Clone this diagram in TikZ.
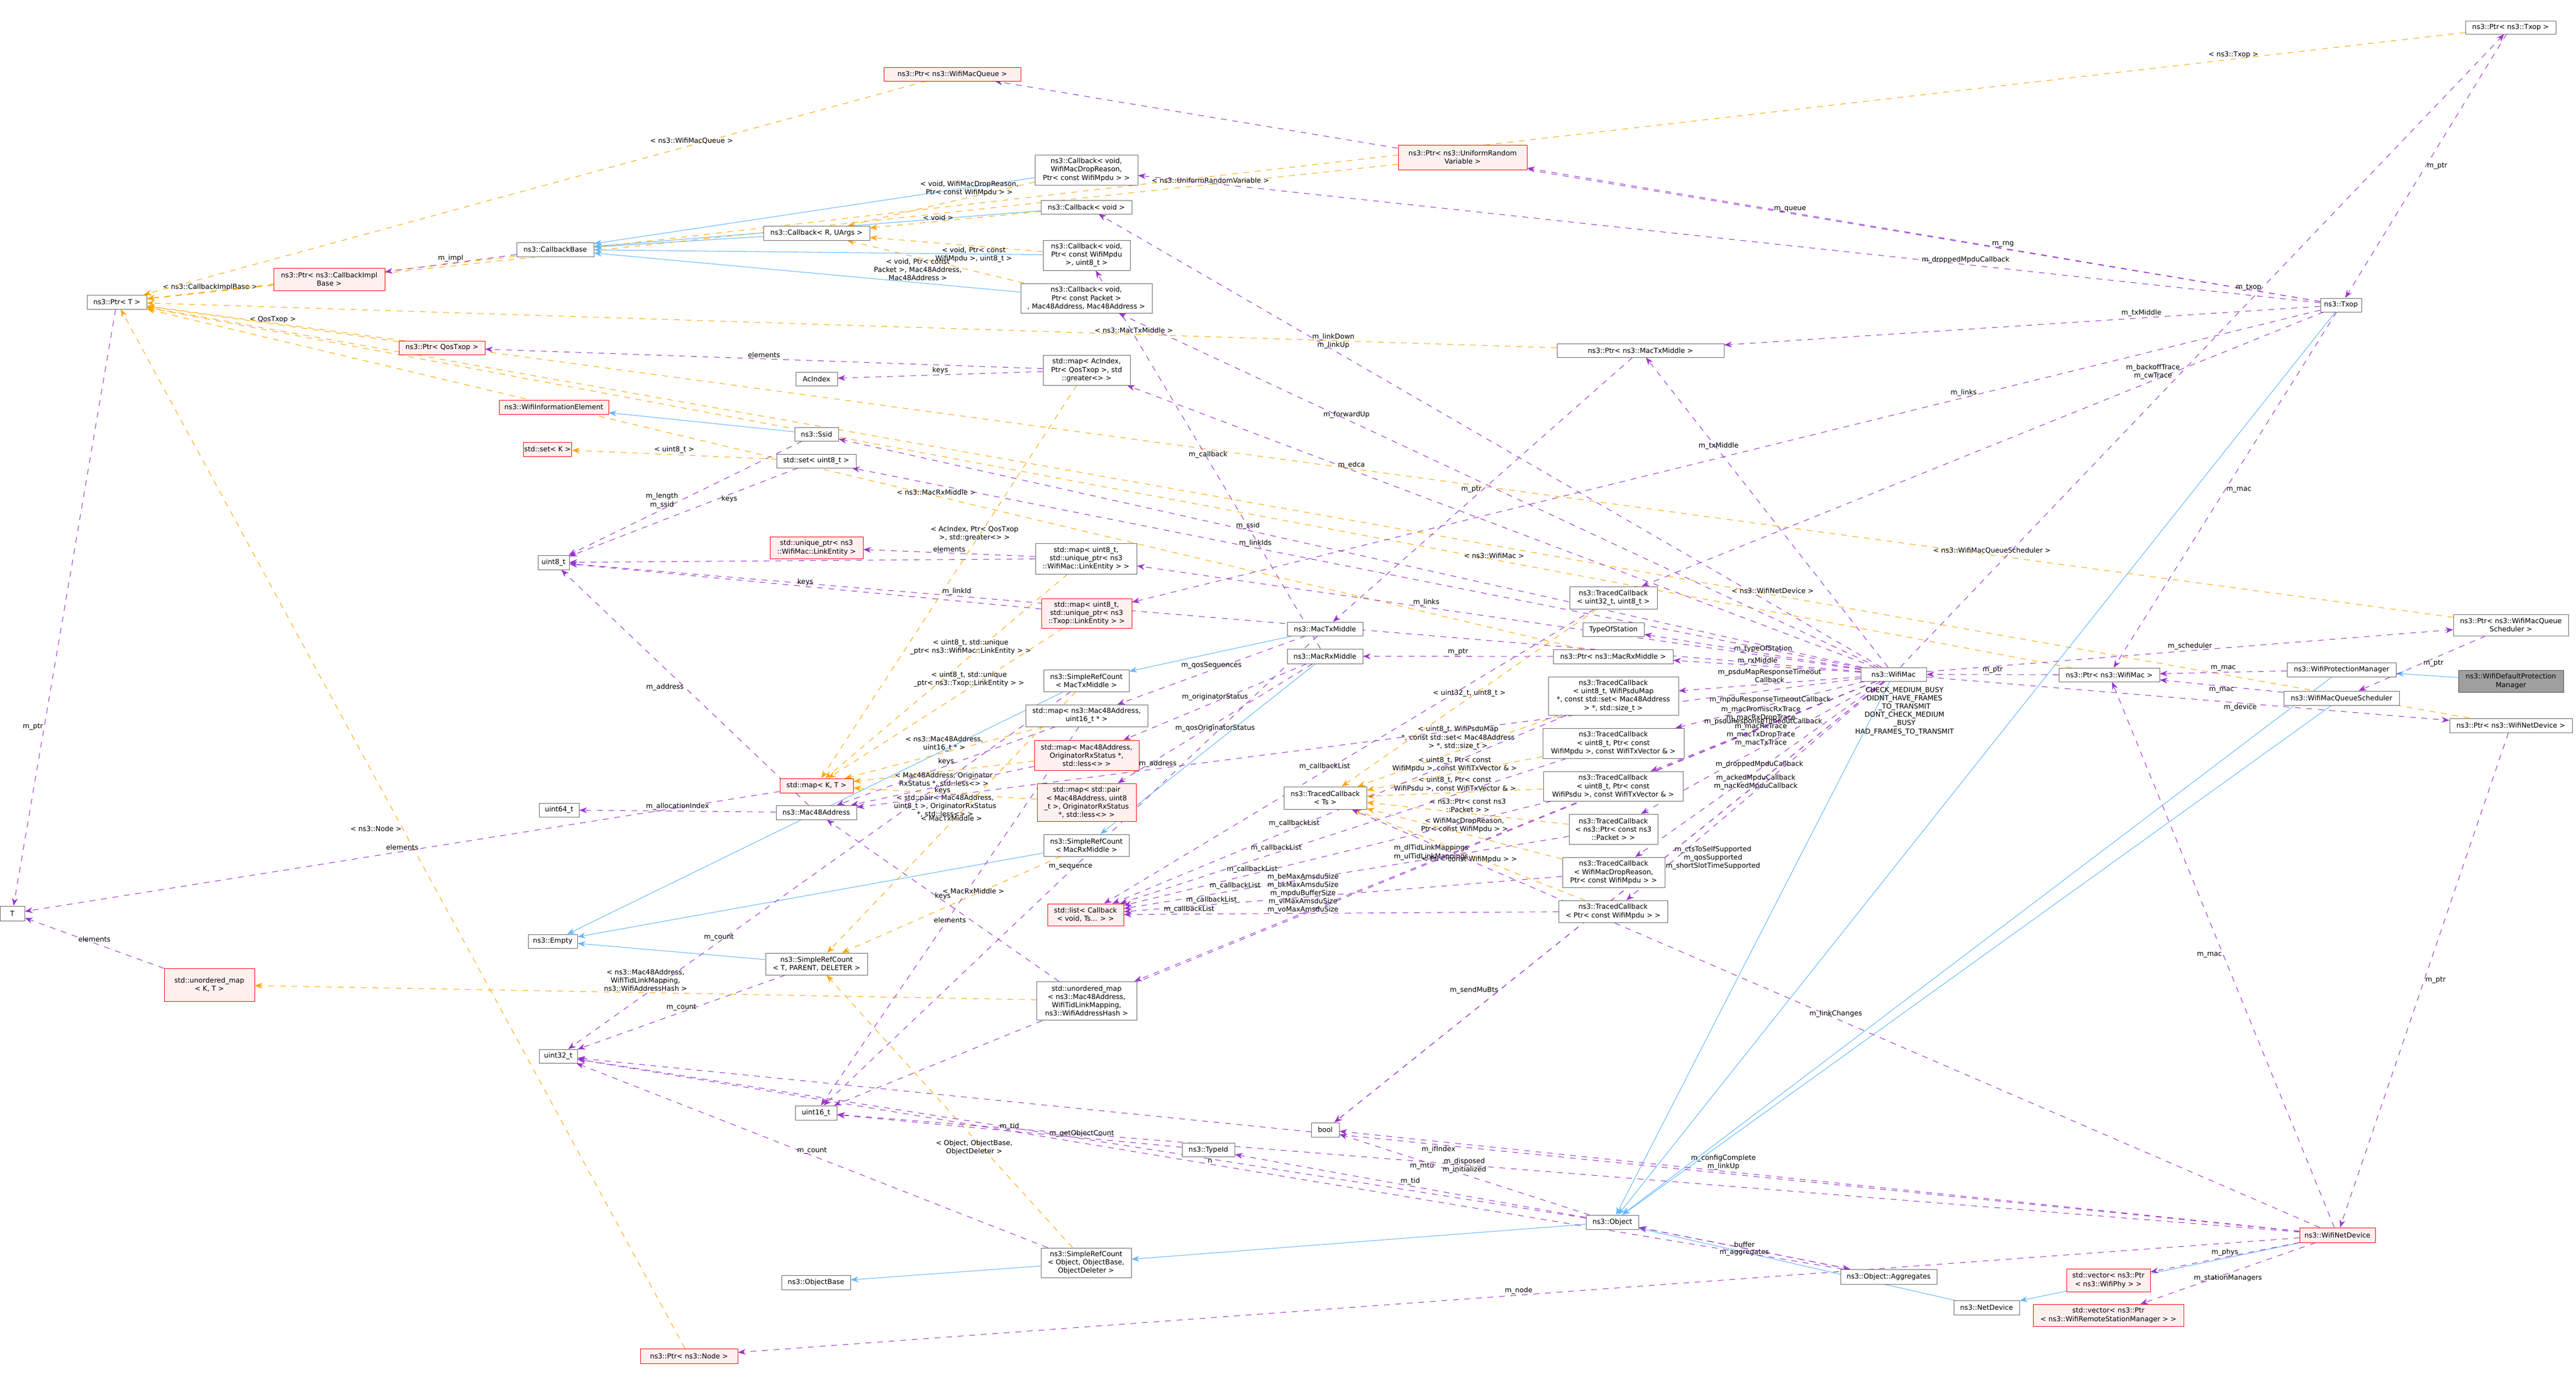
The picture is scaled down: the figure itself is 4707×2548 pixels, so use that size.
\documentclass[tikz,border=0pt]{standalone}
\usepackage{fontspec}
\setmainfont{DejaVu Sans}
\usetikzlibrary{arrows.meta,backgrounds}
\definecolor{purp}{HTML}{9A32CD}
\definecolor{orng}{HTML}{FFA500}
\definecolor{blu}{HTML}{63B8FF}
\definecolor{redb}{HTML}{FF0000}
\definecolor{redf}{HTML}{FFF0F0}
\newcommand\nb[7][plain]{\node[#1,minimum width={(#4-#2)*0.01cm},minimum height={(#5-#3)*0.01cm}] (#6) at ({(#2+#4)/2},{(#3+#5)/2}) {#7};}
\begin{document}
\begin{tikzpicture}[x=0.01cm,y=-0.01cm,
  every node/.style={font=\fontsize{3.6}{4.3}\selectfont,align=center,inner sep=0.5pt},
  plain/.style={draw=gray!80!black,fill=white,line width=0.25pt},
  redbox/.style={draw=redb,fill=redf,line width=0.25pt},
  graybox/.style={draw=gray!60!black,fill=gray!75,line width=0.25pt},
  mem/.style={draw=purp,dashed,line width=0.3pt,-{Stealth[length=4pt,width=3pt]}},
  tmpl/.style={draw=orng,dashed,line width=0.3pt,-{Stealth[length=4pt,width=3pt]}},
  inh/.style={draw=blu,line width=0.3pt,-{Stealth[length=4pt,width=3pt]}},
  lb/.style={fill=none}]
\useasboundingbox (0,0) rectangle (4707,2548);
\nb{159}{539}{268}{565}{ptrT}{ns3::Ptr< T >}
\nb[redbox]{500}{490}{703}{531}{ptrCIB}{ns3::Ptr< ns3::CallbackImpl\\Base >}
\nb[redbox]{729}{623}{886}{648}{ptrQos}{ns3::Ptr< QosTxop >}
\nb{944}{443}{1085}{469}{cbBase}{ns3::CallbackBase}
\nb[redbox]{912}{731}{1112}{757}{wie}{ns3::WifiInformationElement}
\nb[redbox]{961}{808}{1040}{834}{setK}{std::set< K >}
\nb{983}{1015}{1040}{1041}{u8}{uint8\_t}
\nb{4505}{38}{4670}{62}{ptrTxop}{ns3::Ptr< ns3::Txop >}
\nb[redbox]{1615}{123}{1865}{148}{ptrQueue}{ns3::Ptr< ns3::WifiMacQueue >}
\nb[redbox]{2555}{265}{2790}{310}{ptrURV}{ns3::Ptr< ns3::UniformRandom\\Variable >}
\nb{1891}{283}{2079}{338}{cbDrop}{ns3::Callback< void,\\ WifiMacDropReason,\\ Ptr< const WifiMpdu > >}
\nb{1902}{366}{2068}{391}{cbVoid}{ns3::Callback< void >}
\nb{1395}{413}{1589}{439}{cbR}{ns3::Callback< R, UArgs >}
\nb{1906}{439}{2065}{494}{cbMpdu}{ns3::Callback< void,\\ Ptr< const WifiMpdu\\ >, uint8\_t >}
\nb{1865}{518}{2105}{572}{cbPkt}{ns3::Callback< void,\\ Ptr< const Packet >\\ , Mac48Address, Mac48Address >}
\nb{4240}{545}{4315}{570}{txop}{ns3::Txop}
\nb{2845}{628}{3150}{653}{ptrTxM}{ns3::Ptr< ns3::MacTxMiddle >}
\nb{1906}{649}{2065}{704}{mapAc}{std::map< AcIndex,\\ Ptr< QosTxop >, std\\ ::greater<> >}
\nb{1454}{680}{1530}{705}{acIdx}{AcIndex}
\nb{1452}{781}{1532}{806}{ssid}{ns3::Ssid}
\nb{1419}{830}{1564}{855}{setU8}{std::set< uint8\_t >}
\nb[redbox]{1407}{981}{1577}{1021}{uniq}{std::unique\_ptr< ns3\\::WifiMac::LinkEntity >}
\nb{1892}{993}{2077}{1049}{mapWL}{std::map< uint8\_t,\\ std::unique\_ptr< ns3\\::WifiMac::LinkEntity > >}
\nb{2868}{1072}{3028}{1113}{tcU32}{ns3::TracedCallback\\< uint32\_t, uint8\_t >}
\nb[redbox]{1903}{1094}{2068}{1148}{mapTL}{std::map< uint8\_t,\\ std::unique\_ptr< ns3\\::Txop::LinkEntity > >}
\nb{2892}{1138}{3004}{1163}{typeSt}{TypeOfStation}
\nb{2352}{1137}{2490}{1162}{macTx}{ns3::MacTxMiddle}
\nb{2352}{1186}{2490}{1213}{macRx}{ns3::MacRxMiddle}
\nb{2838}{1187}{3057}{1213}{ptrRx}{ns3::Ptr< ns3::MacRxMiddle >}
\nb{1907}{1224}{2063}{1264}{srcTx}{ns3::SimpleRefCount\\< MacTxMiddle >}
\nb{3400}{1220}{3520}{1245}{wifimac}{ns3::WifiMac}
\nb{3762}{1221}{3946}{1246}{ptrWM}{ns3::Ptr< ns3::WifiMac >}
\nb{4179}{1211}{4378}{1237}{wpm}{ns3::WifiProtectionManager}
\nb[graybox]{4492}{1225}{4684}{1265}{wdpm}{ns3::WifiDefaultProtection\\Manager}
\nb{4173}{1263}{4384}{1289}{wmqs}{ns3::WifiMacQueueScheduler}
\nb{4483}{1123}{4693}{1162}{ptrWMQS}{ns3::Ptr< ns3::WifiMacQueue\\Scheduler >}
\nb{4476}{1313}{4700}{1339}{ptrWND}{ns3::Ptr< ns3::WifiNetDevice >}
\nb{2829}{1237}{3067}{1307}{tcPsduMap}{ns3::TracedCallback\\< uint8\_t, WifiPsduMap\\ *, const std::set< Mac48Address\\ > *, std::size\_t >}
\nb{1874}{1288}{2097}{1328}{mapM16}{std::map< ns3::Mac48Address,\\ uint16\_t * >}
\nb[redbox]{1890}{1353}{2081}{1408}{mapOrig}{std::map< Mac48Address,\\ OriginatorRxStatus *,\\ std::less<> >}
\nb{2819}{1331}{3077}{1386}{tcMpdu}{ns3::TracedCallback\\< uint8\_t, Ptr< const\\ WifiMpdu >, const WifiTxVector \& >}
\nb{2820}{1410}{3075}{1464}{tcPsdu}{ns3::TracedCallback\\< uint8\_t, Ptr< const\\ WifiPsdu >, const WifiTxVector \& >}
\nb[redbox]{1425}{1423}{1559}{1449}{mapK}{std::map< K, T >}
\nb[redbox]{1895}{1432}{2076}{1501}{mapPair}{std::map< std::pair\\< Mac48Address, uint8\\ \_t >, OriginatorRxStatus\\ *, std::less<> >}
\nb{2346}{1438}{2497}{1479}{tcTs}{ns3::TracedCallback\\< Ts >}
\nb{1418}{1472}{1565}{1498}{mac48}{ns3::Mac48Address}
\nb{985}{1468}{1058}{1493}{u64}{uint64\_t}
\nb{2867}{1488}{3029}{1543}{tcPkt}{ns3::TracedCallback\\< ns3::Ptr< const ns3\\ ::Packet > >}
\nb{1907}{1525}{2063}{1565}{srcRx}{ns3::SimpleRefCount\\< MacRxMiddle >}
\nb{2855}{1567}{3042}{1622}{tcDrop}{ns3::TracedCallback\\< WifiMacDropReason,\\ Ptr< const WifiMpdu > >}
\nb{2848}{1646}{3047}{1686}{tcMpdu2}{ns3::TracedCallback\\< Ptr< const WifiMpdu > >}
\nb[redbox]{1914}{1652}{2053}{1692}{list}{std::list< Callback\\< void, Ts... > >}
\nb{0}{1656}{45}{1683}{T}{T}
\nb{965}{1708}{1055}{1733}{empty}{ns3::Empty}
\nb{1399}{1742}{1585}{1782}{srcT}{ns3::SimpleRefCount\\< T, PARENT, DELETER >}
\nb[redbox]{300}{1770}{465}{1830}{umapKT}{std::unordered\_map\\< K, T >}
\nb{1894}{1794}{2077}{1864}{umap}{std::unordered\_map\\< ns3::Mac48Address,\\ WifiTidLinkMapping,\\ ns3::WifiAddressHash >}
\nb{985}{1918}{1055}{1943}{u32}{uint32\_t}
\nb{1453}{2021}{1529}{2047}{u16}{uint16\_t}
\nb{2396}{2052}{2447}{2078}{bool}{bool}
\nb{2160}{2089}{2256}{2114}{typeid}{ns3::TypeId}
\nb{2898}{2221}{2994}{2247}{object}{ns3::Object}
\nb[redbox]{4202}{2244}{4340}{2271}{wnd}{ns3::WifiNetDevice}
\nb{1902}{2281}{2067}{2335}{srcO}{ns3::SimpleRefCount\\< Object, ObjectBase,\\ ObjectDeleter >}
\nb{3363}{2320}{3539}{2347}{aggr}{ns3::Object::Aggregates}
\nb[redbox]{3776}{2319}{3929}{2361}{vphy}{std::vector< ns3::Ptr\\< ns3::WifiPhy > >}
\nb{1428}{2331}{1554}{2357}{objBase}{ns3::ObjectBase}
\nb{3570}{2377}{3690}{2403}{netdev}{ns3::NetDevice}
\nb[redbox]{3715}{2384}{3990}{2424}{vrsm}{std::vector< ns3::Ptr\\< ns3::WifiRemoteStationManager > >}
\nb[redbox]{1170}{2465}{1348}{2492}{ptrNode}{ns3::Ptr< ns3::Node >}
\node[lb] (enumlbl) at (3480,1300) {CHECK\_MEDIUM\_BUSY\\DIDNT\_HAVE\_FRAMES\\\_TO\_TRANSMIT\\DONT\_CHECK\_MEDIUM\\\_BUSY\\HAD\_FRAMES\_TO\_TRANSMIT};
\begin{scope}[on background layer]
\fill[white] (0,0) rectangle (4707,2548);
% inheritance
\draw[inh] (cbDrop) -- (cbBase);
\draw[inh] (cbVoid) -- (cbBase);
\draw[inh] (cbMpdu) -- (cbBase);
\draw[inh] (cbPkt) -- (cbBase);
\draw[inh] (cbR) -- (cbBase);
\draw[inh] (ssid) -- (wie);
\draw[inh] (srcT) -- (empty);
\draw[inh] (srcTx) -- (empty);
\draw[inh] (srcRx) -- (empty);
\draw[inh] (macTx) -- (srcTx);
\draw[inh] (macRx) -- (srcRx);
\draw[inh] (srcO) -- (objBase);
\draw[inh] (object) -- (srcO);
\draw[inh] (txop) -- (object);
\draw[inh] (wifimac) -- (object);
\draw[inh] (wpm) -- (object);
\draw[inh] (wmqs) -- (object);
\draw[inh] (netdev) -- (object);
\draw[inh] (wnd) -- (netdev);
\draw[inh] (wdpm) -- (wpm);
% templates
\draw[tmpl] (ptrCIB) -- node[lb,above]{< ns3::CallbackImplBase >} (ptrT);
\draw[tmpl] (ptrQos) -- node[lb,above]{< QosTxop >} (ptrT);
\draw[tmpl] (ptrTxop) -- node[lb,above,pos=0.1]{< ns3::Txop >} (ptrT);
\draw[tmpl] (ptrQueue) -- node[lb,above,pos=0.3]{< ns3::WifiMacQueue >} (ptrT);
\draw[tmpl] (ptrURV) -- node[lb,above,pos=0.15]{< ns3::UniformRandomVariable >} (ptrT);
\draw[tmpl] (ptrWMQS) -- node[lb,above,pos=0.2]{< ns3::WifiMacQueueScheduler >} (ptrT);
\draw[tmpl] (ptrTxM) -- node[lb,above,pos=0.3]{< ns3::MacTxMiddle >} (ptrT);
\draw[tmpl] (ptrRx) -- node[lb,above,pos=0.45]{< ns3::MacRxMiddle >} (ptrT);
\draw[tmpl] (ptrWM) -- node[lb,above,pos=0.3]{< ns3::WifiMac >} (ptrT);
\draw[tmpl] (ptrWND) -- node[lb,above,pos=0.3]{< ns3::WifiNetDevice >} (ptrT);
\draw[tmpl] (ptrNode) -- node[lb,left,pos=0.5]{< ns3::Node >} (ptrT);
\draw[tmpl] (cbDrop) -- node[lb,above,pos=0.35]{< void, WifiMacDropReason,\\ Ptr< const WifiMpdu > >} (cbR);
\draw[tmpl] (cbVoid) -- node[lb,above,pos=0.6]{< void >} (cbR);
\draw[tmpl] (cbMpdu) -- node[lb,below,pos=0.4]{< void, Ptr< const\\ WifiMpdu >, uint8\_t >} (cbR);
\draw[tmpl] (cbPkt) -- node[lb,below,pos=0.6]{< void, Ptr< const\\ Packet >, Mac48Address,\\ Mac48Address >} (cbR);
\draw[tmpl] (setU8) -- node[lb,above]{< uint8\_t >} (setK);
\draw[tmpl] (mapAc) -- node[lb,above,pos=0.4]{< AcIndex, Ptr< QosTxop\\ >, std::greater<> >} (mapK);
\draw[tmpl] (mapWL) -- node[lb,above,pos=0.4]{< uint8\_t, std::unique\\\_ptr< ns3::WifiMac::LinkEntity > >} (mapK);
\draw[tmpl] (mapTL) -- node[lb,above,pos=0.4]{< uint8\_t, std::unique\\\_ptr< ns3::Txop::LinkEntity > >} (mapK);
\draw[tmpl] (mapM16) -- node[lb,above,pos=0.5]{< ns3::Mac48Address,\\ uint16\_t * >} (mapK);
\draw[tmpl] (mapOrig) -- node[lb,below,pos=0.5]{< Mac48Address, Originator\\ RxStatus *, std::less<> >} (mapK);
\draw[tmpl] (mapPair) -- node[lb,below,pos=0.5]{< std::pair< Mac48Address,\\ uint8\_t >, OriginatorRxStatus\\ *, std::less<> >} (mapK);
\draw[tmpl] (umap) -- node[lb,above,pos=0.5]{< ns3::Mac48Address,\\ WifiTidLinkMapping,\\ ns3::WifiAddressHash >} (umapKT);
\draw[tmpl] (srcTx) -- node[lb,above,pos=0.5]{< MacTxMiddle >} (srcT);
\draw[tmpl] (srcRx) -- node[lb,above,pos=0.4]{< MacRxMiddle >} (srcT);
\draw[tmpl] (srcO) -- node[lb,below,pos=0.4]{< Object, ObjectBase,\\ ObjectDeleter >} (srcT);
\draw[tmpl] (tcU32) -- node[lb,above,pos=0.5]{< uint32\_t, uint8\_t >} (tcTs);
\draw[tmpl] (tcPsduMap) -- node[lb,above,pos=0.5]{< uint8\_t, WifiPsduMap\\ *, const std::set< Mac48Address\\ > *, std::size\_t >} (tcTs);
\draw[tmpl] (tcMpdu) -- node[lb,above]{< uint8\_t, Ptr< const\\ WifiMpdu >, const WifiTxVector \& >} (tcTs);
\draw[tmpl] (tcPsdu) -- node[lb,above]{< uint8\_t, Ptr< const\\ WifiPsdu >, const WifiTxVector \& >} (tcTs);
\draw[tmpl] (tcPkt) -- node[lb,above]{< ns3::Ptr< const ns3\\ ::Packet > >} (tcTs);
\draw[tmpl] (tcDrop) -- node[lb,above,pos=0.5]{< WifiMacDropReason,\\ Ptr< const WifiMpdu > >} (tcTs);
\draw[tmpl] (tcMpdu2) -- node[lb,below,pos=0.5]{< Ptr< const WifiMpdu > >} (tcTs);
% members
\draw[mem] (cbBase) -- node[lb,above]{m\_impl} (ptrCIB);
\draw[mem] (ptrT) -- node[lb,left,pos=0.7]{m\_ptr} (T);
\draw[mem] (txop) -- node[lb,above,pos=0.4]{m\_queue} (ptrQueue);
\draw[mem] (txop) -- node[lb,above,pos=0.4]{m\_rng} (ptrURV);
\draw[mem] (txop) -- node[lb,above,pos=0.3]{m\_droppedMpduCallback} (cbDrop);
\draw[mem] (txop) -- node[lb,above,pos=0.3]{m\_txMiddle} (ptrTxM);
\draw[mem] (txop) -- node[lb,above,pos=0.3]{m\_links} (mapTL);
\draw[mem] (txop) -- node[lb,above,pos=0.25]{m\_backoffTrace\\m\_cwTrace} (tcU32);
\draw[mem] (txop) -- node[lb,right,pos=0.5]{m\_mac} (ptrWM);
\draw[mem] (ptrTxop) -- node[lb,right]{m\_ptr} (txop);
\draw[mem] (wifimac) -- node[lb,left,pos=0.6]{m\_txop} (ptrTxop);
\draw[mem] (wifimac) -- node[lb,above,pos=0.7]{m\_txMiddle} (ptrTxM);
\draw[mem] (wifimac) -- node[lb,above,pos=0.55]{m\_rxMiddle} (ptrRx);
\draw[mem] (wifimac) -- node[lb,above,pos=0.45]{m\_typeOfStation} (typeSt);
\draw[mem] (wifimac) -- node[lb,above,pos=0.5]{m\_psduMapResponseTimeout\\Callback} (tcPsduMap);
\draw[mem] (wifimac) -- node[lb,above,pos=0.5]{m\_mpduResponseTimeoutCallback} (tcMpdu);
\draw[mem] (wifimac) -- node[lb,above,pos=0.5]{m\_psduResponseTimeoutCallback} (tcPsdu);
\draw[mem] (wifimac) -- node[lb,above,pos=0.5]{m\_macPromiscRxTrace\\m\_macRxDropTrace\\m\_macRxTrace\\m\_macTxDropTrace\\m\_macTxTrace} (tcPkt);
\draw[mem] (wifimac) -- node[lb,above,pos=0.5]{m\_droppedMpduCallback} (tcDrop);
\draw[mem] (wifimac) -- node[lb,above,pos=0.5]{m\_ackedMpduCallback\\m\_nackedMpduCallback} (tcMpdu2);
\draw[mem] (wifimac) -- node[lb,above,pos=0.6]{m\_dlTidLinkMappings\\m\_ulTidLinkMappings} (umap);
\draw[mem] (wifimac) -- node[lb,above,pos=0.55]{m\_beMaxAmsduSize\\m\_bkMaxAmsduSize\\m\_mpduBufferSize\\m\_viMaxAmsduSize\\m\_voMaxAmsduSize} (u16);
\draw[mem] (wifimac) -- node[lb,right,pos=0.4]{m\_ctsToSelfSupported\\m\_qosSupported\\m\_shortSlotTimeSupported} (bool);
\draw[mem] (wifimac) -- node[lb,above,pos=0.6]{m\_ssid} (ssid);
\draw[mem] (wifimac) -- node[lb,above,pos=0.6]{m\_linkIds} (setU8);
\draw[mem] (wifimac) -- node[lb,above,pos=0.6]{m\_links} (mapWL);
\draw[mem] (wifimac) -- node[lb,above,pos=0.7]{m\_address} (mac48);
\draw[mem] (wifimac) -- node[lb,above,pos=0.7]{m\_forwardUp} (cbPkt);
\draw[mem] (wifimac) -- node[lb,above,pos=0.7]{m\_linkDown\\m\_linkUp} (cbVoid);
\draw[mem] (wifimac) -- node[lb,above,pos=0.7]{m\_edca} (mapAc);
\draw[mem] (wifimac) -- node[lb,above,pos=0.5]{m\_scheduler} (ptrWMQS);
\draw[mem] (wifimac) -- node[lb,below,pos=0.6]{m\_device} (ptrWND);
\draw[mem] (wifimac) -- node[lb,above,pos=0.7]{m\_linkId} (u8);
\draw[mem] (wpm) -- node[lb,above]{m\_mac} (ptrWM);
\draw[mem] (wmqs) -- node[lb,below]{m\_mac} (ptrWM);
\draw[mem] (ptrWM) -- node[lb,above]{m\_ptr} (wifimac);
\draw[mem] (ptrWND) -- node[lb,right]{m\_ptr} (wnd);
\draw[mem] (ptrWMQS) -- node[lb,right]{m\_ptr} (wmqs);
\draw[mem] (wnd) -- node[lb,left,pos=0.5]{m\_mac} (ptrWM);
\draw[mem] (wnd) -- node[lb,above,pos=0.5]{m\_node} (ptrNode);
\draw[mem] (wnd) -- node[lb,below,pos=0.5]{m\_ifIndex} (u32);
\draw[mem] (wnd) -- node[lb,above,pos=0.6]{m\_configComplete\\m\_linkUp} (bool);
\draw[mem] (wnd) -- node[lb,below,pos=0.6]{m\_mtu} (u16);
\draw[mem] (wnd) -- node[lb,above,pos=0.5]{m\_linkChanges} (tcTs);
\draw[mem] (wnd) -- node[lb,above,pos=0.5]{m\_phys} (vphy);
\draw[mem] (wnd) -- node[lb,below,pos=0.5]{m\_stationManagers} (vrsm);
\draw[mem] (wifimac) -- node[lb,left,pos=0.7]{m\_sendMuBts} (bool);
\draw[mem] (object) -- node[lb,above,pos=0.5]{m\_disposed\\m\_initialized} (bool);
\draw[mem] (object) -- node[lb,below,pos=0.5]{m\_aggregates} (aggr);
\draw[mem] (aggr) -- node[lb,above,pos=0.5]{buffer} (object);
\draw[mem] (aggr) -- node[lb,above,pos=0.5]{n} (u32);
\draw[mem] (object) -- node[lb,above,pos=0.5]{m\_getObjectCount} (u32);
\draw[mem] (object) -- node[lb,above,pos=0.5]{m\_tid} (typeid);
\draw[mem] (typeid) -- node[lb,above,pos=0.5]{m\_tid} (u16);
\draw[mem] (srcO) -- node[lb,above]{m\_count} (u32);
\draw[mem] (srcT) -- node[lb,above]{m\_count} (u32);
\draw[mem] (srcTx) -- node[lb,above,pos=0.7]{m\_count} (u32);
\draw[mem] (macTx) -- node[lb,above]{m\_qosSequences} (mapM16);
\draw[mem] (macTx) -- node[lb,above,pos=0.5]{m\_sequence} (u16);
\draw[mem] (macRx) -- node[lb,above]{m\_originatorStatus} (mapOrig);
\draw[mem] (macRx) -- node[lb,below]{m\_qosOriginatorStatus} (mapPair);
\draw[mem] (macRx) -- node[lb,above,pos=0.5]{m\_callback} (cbMpdu);
\draw[mem] (ptrRx) -- node[lb,above]{m\_ptr} (macRx);
\draw[mem] (ptrTxM) -- node[lb,left]{m\_ptr} (macTx);
\foreach \s/\p in {tcU32/0.55,tcPsduMap/0.6,tcMpdu/0.65,tcPsdu/0.7,tcPkt/0.75,tcDrop/0.8,tcMpdu2/0.85}
  \draw[mem] (\s) -- node[lb,above,pos=\p]{m\_callbackList} (list);
\draw[mem] (mapAc) -- node[lb,above]{keys} (acIdx);
\draw[mem] (mapAc) -- node[lb,above,pos=0.5]{elements} (ptrQos);
\draw[mem] (mapWL) -- node[lb,above,pos=0.5]{keys} (u8);
\draw[mem] (mapWL) -- node[lb,above,pos=0.5]{elements} (uniq);
\draw[mem] (mapTL) -- node[lb,above,pos=0.5]{keys} (u8);
\draw[mem] (mapM16) -- node[lb,above,pos=0.5]{keys} (mac48);
\draw[mem] (mapM16) -- node[lb,below,pos=0.5]{elements} (u16);
\draw[mem] (mapOrig) -- node[lb,below,pos=0.5]{keys} (mac48);
\draw[mem] (umap) -- node[lb,above,pos=0.5]{keys} (mac48);
\draw[mem] (mac48) -- node[lb,left,pos=0.5]{m\_address} (u8);
\draw[mem] (ssid) -- node[lb,above,pos=0.6]{m\_length\\m\_ssid} (u8);
\draw[mem] (setU8) -- node[lb,below,pos=0.3]{keys} (u8);
\draw[mem] (mac48) -- node[lb,above,pos=0.5]{m\_allocationIndex} (u64);
\draw[mem] (mapK) -- node[lb,above,pos=0.5]{elements} (T);
\draw[mem] (umapKT) -- node[lb,above,pos=0.5]{elements} (T);
\end{scope}
\end{tikzpicture}
\end{document}
